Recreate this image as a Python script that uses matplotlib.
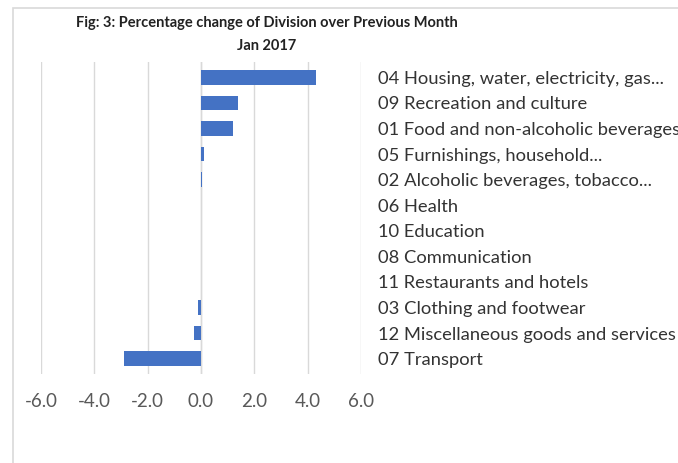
import matplotlib.pyplot as plt
from matplotlib.patches import Rectangle

# Данные: подразделения и процентное изменение
categories = [
    '04 Housing, water, electricity, gas...',
    '09 Recreation and culture',
    '01 Food and non-alcoholic beverages',
    '05 Furnishings, household...',
    '02 Alcoholic beverages, tobacco...',
    '06 Health',
    '10 Education',
    '08 Communication',
    '11 Restaurants and hotels',
    '03 Clothing and footwear',
    '12 Miscellaneous goods and services',
    '07 Transport',
]
values = [4.3, 1.4, 1.2, 0.1, 0.03, 0.0, 0.0, 0.0, 0.0, -0.1, -0.25, -2.9]
xticks = [-6.0, -4.0, -2.0, 0.0, 2.0, 4.0, 6.0]

plt.rcParams['font.family'] = ['Lato', 'DejaVu Sans']

fig = plt.figure(figsize=(6.78, 4.63), dpi=100)
ax = fig.add_axes([41 / 678, 1 - 374 / 463, 320 / 678, 312 / 463])

# Рамка всей диаграммы
fig.patches.append(Rectangle((13 / 678, -0.1), 1.2, 1 - 8 / 463 + 0.1,
                             transform=fig.transFigure, fill=False,
                             edgecolor='#d9d9d9', linewidth=1.2))

pos = list(range(len(categories)))
ax.barh(pos, values, height=0.58, color='#4472C4', zorder=3)
ax.axvline(0, color='#d9d9d9', linewidth=1, zorder=2)

ax.set_xlim(-6, 6)
ax.set_ylim(11.6, -0.6)
ax.set_xticks(xticks)
ax.set_xticklabels([f'{t:.1f}' for t in xticks], fontsize=13.5, color='#595959')
ax.xaxis.grid(True, color='#d9d9d9', linewidth=1)
ax.set_axisbelow(True)

ax.yaxis.tick_right()
ax.set_yticks(pos)
ax.set_yticklabels(categories, fontsize=13.2, color='#333333')
ax.tick_params(axis='y', length=0, pad=12)
ax.tick_params(axis='x', length=0, pad=14)
for s in ax.spines.values():
    s.set_visible(False)

fig.text(267 / 678, 1 - 23 / 463, 'Fig: 3: Percentage change of Division over Previous Month',
         ha='center', va='center', fontsize=10.5, fontweight='bold', color='#222222')
fig.text(267 / 678, 1 - 46 / 463, 'Jan 2017',
         ha='center', va='center', fontsize=10.5, fontweight='bold', color='#222222')

fig.savefig('out.png', dpi=100)
